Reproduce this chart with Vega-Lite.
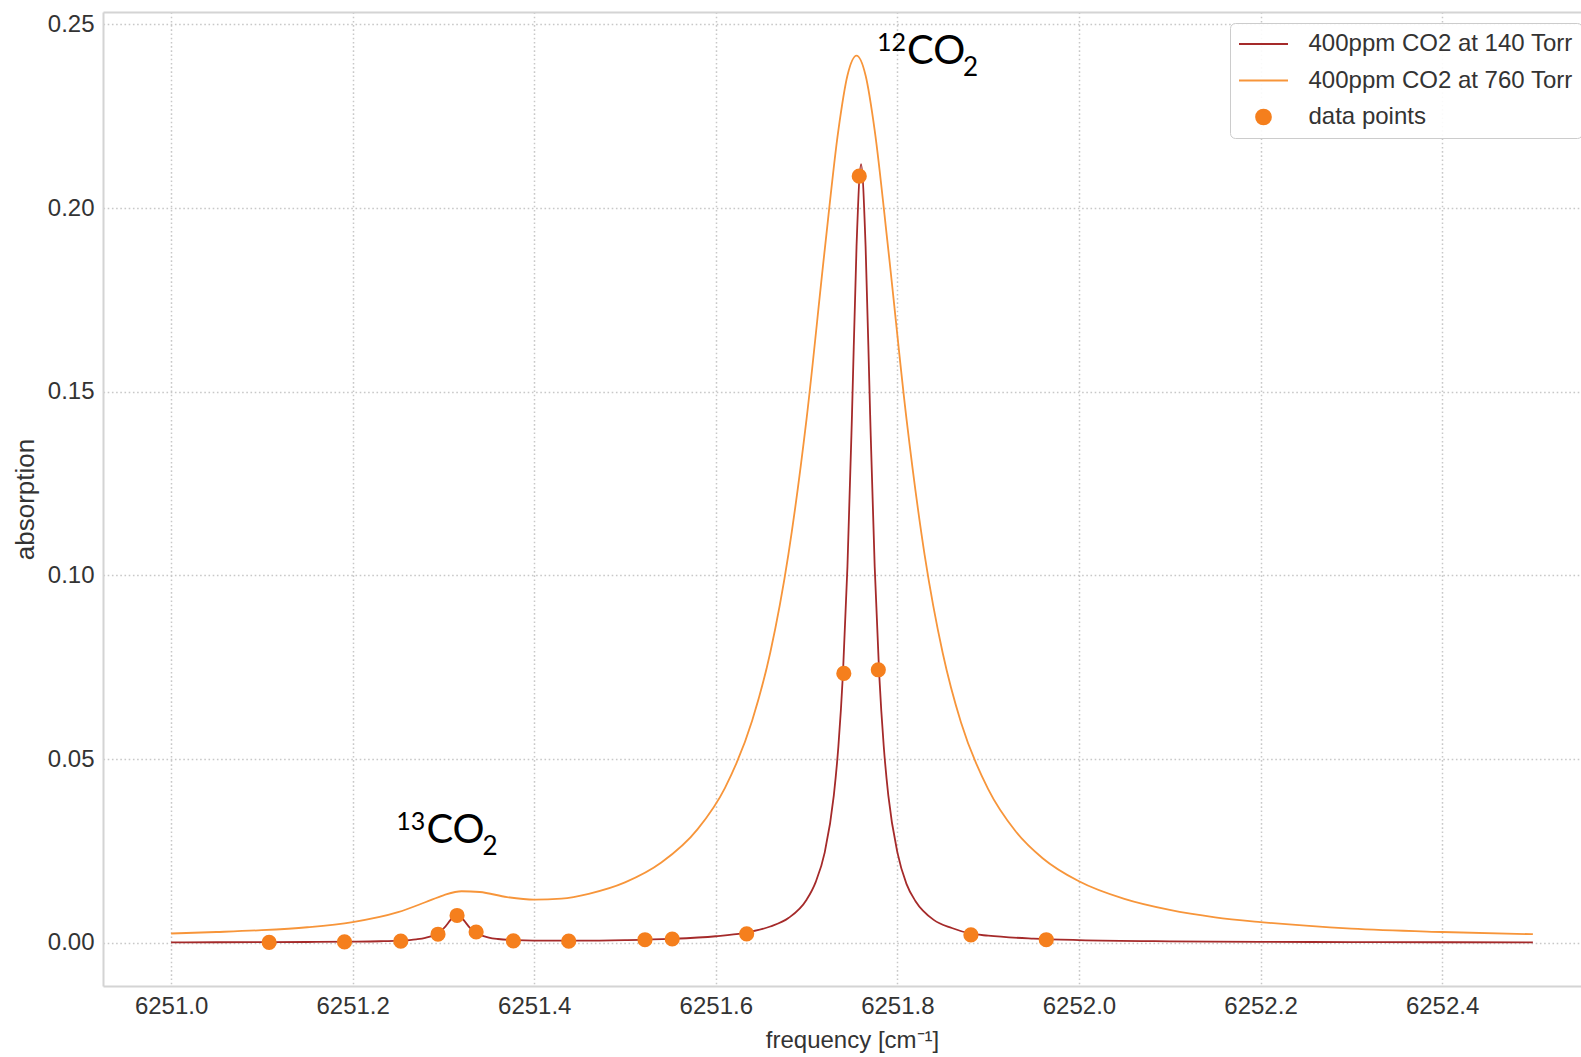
{
  "$schema": "https://vega.github.io/schema/vega-lite/v6.json",
  "width": 1478,
  "height": 974,
  "autosize": "none",
  "padding": {"left": 103, "top": 12, "right": 0, "bottom": 71},
  "background": "white",
  "config": {
    "view": {"stroke": null},
    "font": "Liberation Sans",
    "axis": {
      "labelFont": "Liberation Sans", "labelFontSize": 24, "labelColor": "#333333",
      "titleFont": "Liberation Sans", "titleFontSize": 24, "titleFontWeight": "normal", "titleColor": "#333333",
      "domainColor": "#d4d4d4", "domainWidth": 2, "ticks": false, "tickSize": 0,
      "gridColor": "#c8c8c8", "gridDash": [1.6, 2.6], "gridWidth": 1.5
    }
  },
  "datasets": {
    "curves": [
      {"series": "400ppm CO2 at 760 Torr", "frequency": 6251.00, "absorption": 0.0025},
      {"series": "400ppm CO2 at 760 Torr", "frequency": 6251.05, "absorption": 0.0029},
      {"series": "400ppm CO2 at 760 Torr", "frequency": 6251.10, "absorption": 0.0034},
      {"series": "400ppm CO2 at 760 Torr", "frequency": 6251.15, "absorption": 0.0042},
      {"series": "400ppm CO2 at 760 Torr", "frequency": 6251.20, "absorption": 0.0056},
      {"series": "400ppm CO2 at 760 Torr", "frequency": 6251.25, "absorption": 0.0083},
      {"series": "400ppm CO2 at 760 Torr", "frequency": 6251.28, "absorption": 0.0110},
      {"series": "400ppm CO2 at 760 Torr", "frequency": 6251.30, "absorption": 0.0129},
      {"series": "400ppm CO2 at 760 Torr", "frequency": 6251.32, "absorption": 0.0140},
      {"series": "400ppm CO2 at 760 Torr", "frequency": 6251.34, "absorption": 0.0138},
      {"series": "400ppm CO2 at 760 Torr", "frequency": 6251.37, "absorption": 0.0124},
      {"series": "400ppm CO2 at 760 Torr", "frequency": 6251.40, "absorption": 0.0117},
      {"series": "400ppm CO2 at 760 Torr", "frequency": 6251.43, "absorption": 0.0120},
      {"series": "400ppm CO2 at 760 Torr", "frequency": 6251.46, "absorption": 0.0133},
      {"series": "400ppm CO2 at 760 Torr", "frequency": 6251.50, "absorption": 0.0164},
      {"series": "400ppm CO2 at 760 Torr", "frequency": 6251.54, "absorption": 0.0218},
      {"series": "400ppm CO2 at 760 Torr", "frequency": 6251.58, "absorption": 0.0309},
      {"series": "400ppm CO2 at 760 Torr", "frequency": 6251.61, "absorption": 0.0421},
      {"series": "400ppm CO2 at 760 Torr", "frequency": 6251.64, "absorption": 0.0604},
      {"series": "400ppm CO2 at 760 Torr", "frequency": 6251.66, "absorption": 0.0790},
      {"series": "400ppm CO2 at 760 Torr", "frequency": 6251.68, "absorption": 0.1058},
      {"series": "400ppm CO2 at 760 Torr", "frequency": 6251.70, "absorption": 0.1427},
      {"series": "400ppm CO2 at 760 Torr", "frequency": 6251.72, "absorption": 0.1887},
      {"series": "400ppm CO2 at 760 Torr", "frequency": 6251.735, "absorption": 0.2212},
      {"series": "400ppm CO2 at 760 Torr", "frequency": 6251.745, "absorption": 0.2361},
      {"series": "400ppm CO2 at 760 Torr", "frequency": 6251.755, "absorption": 0.2415},
      {"series": "400ppm CO2 at 760 Torr", "frequency": 6251.765, "absorption": 0.2361},
      {"series": "400ppm CO2 at 760 Torr", "frequency": 6251.775, "absorption": 0.2212},
      {"series": "400ppm CO2 at 760 Torr", "frequency": 6251.79, "absorption": 0.1887},
      {"series": "400ppm CO2 at 760 Torr", "frequency": 6251.81, "absorption": 0.1427},
      {"series": "400ppm CO2 at 760 Torr", "frequency": 6251.83, "absorption": 0.1056},
      {"series": "400ppm CO2 at 760 Torr", "frequency": 6251.85, "absorption": 0.0788},
      {"series": "400ppm CO2 at 760 Torr", "frequency": 6251.87, "absorption": 0.0600},
      {"series": "400ppm CO2 at 760 Torr", "frequency": 6251.90, "absorption": 0.0418},
      {"series": "400ppm CO2 at 760 Torr", "frequency": 6251.93, "absorption": 0.0304},
      {"series": "400ppm CO2 at 760 Torr", "frequency": 6251.96, "absorption": 0.0230},
      {"series": "400ppm CO2 at 760 Torr", "frequency": 6252.00, "absorption": 0.0167},
      {"series": "400ppm CO2 at 760 Torr", "frequency": 6252.05, "absorption": 0.0119},
      {"series": "400ppm CO2 at 760 Torr", "frequency": 6252.10, "absorption": 0.0089},
      {"series": "400ppm CO2 at 760 Torr", "frequency": 6252.15, "absorption": 0.0069},
      {"series": "400ppm CO2 at 760 Torr", "frequency": 6252.20, "absorption": 0.0056},
      {"series": "400ppm CO2 at 760 Torr", "frequency": 6252.30, "absorption": 0.0038},
      {"series": "400ppm CO2 at 760 Torr", "frequency": 6252.40, "absorption": 0.0029},
      {"series": "400ppm CO2 at 760 Torr", "frequency": 6252.50, "absorption": 0.0023},
      {"series": "400ppm CO2 at 140 Torr", "frequency": 6251.00, "absorption": 0.0001},
      {"series": "400ppm CO2 at 140 Torr", "frequency": 6251.05, "absorption": 0.00011},
      {"series": "400ppm CO2 at 140 Torr", "frequency": 6251.10, "absorption": 0.00014},
      {"series": "400ppm CO2 at 140 Torr", "frequency": 6251.15, "absorption": 0.00018},
      {"series": "400ppm CO2 at 140 Torr", "frequency": 6251.20, "absorption": 0.00026},
      {"series": "400ppm CO2 at 140 Torr", "frequency": 6251.23, "absorption": 0.00038},
      {"series": "400ppm CO2 at 140 Torr", "frequency": 6251.25, "absorption": 0.00054},
      {"series": "400ppm CO2 at 140 Torr", "frequency": 6251.27, "absorption": 0.00091},
      {"series": "400ppm CO2 at 140 Torr", "frequency": 6251.28, "absorption": 0.00131},
      {"series": "400ppm CO2 at 140 Torr", "frequency": 6251.29, "absorption": 0.0021},
      {"series": "400ppm CO2 at 140 Torr", "frequency": 6251.30, "absorption": 0.0038},
      {"series": "400ppm CO2 at 140 Torr", "frequency": 6251.31, "absorption": 0.0067},
      {"series": "400ppm CO2 at 140 Torr", "frequency": 6251.315, "absorption": 0.0074},
      {"series": "400ppm CO2 at 140 Torr", "frequency": 6251.32, "absorption": 0.0067},
      {"series": "400ppm CO2 at 140 Torr", "frequency": 6251.33, "absorption": 0.0038},
      {"series": "400ppm CO2 at 140 Torr", "frequency": 6251.34, "absorption": 0.0022},
      {"series": "400ppm CO2 at 140 Torr", "frequency": 6251.35, "absorption": 0.0014},
      {"series": "400ppm CO2 at 140 Torr", "frequency": 6251.36, "absorption": 0.0010},
      {"series": "400ppm CO2 at 140 Torr", "frequency": 6251.38, "absorption": 0.00067},
      {"series": "400ppm CO2 at 140 Torr", "frequency": 6251.40, "absorption": 0.00056},
      {"series": "400ppm CO2 at 140 Torr", "frequency": 6251.45, "absorption": 0.00055},
      {"series": "400ppm CO2 at 140 Torr", "frequency": 6251.50, "absorption": 0.0007},
      {"series": "400ppm CO2 at 140 Torr", "frequency": 6251.55, "absorption": 0.00103},
      {"series": "400ppm CO2 at 140 Torr", "frequency": 6251.60, "absorption": 0.00175},
      {"series": "400ppm CO2 at 140 Torr", "frequency": 6251.63, "absorption": 0.0026},
      {"series": "400ppm CO2 at 140 Torr", "frequency": 6251.66, "absorption": 0.0044},
      {"series": "400ppm CO2 at 140 Torr", "frequency": 6251.68, "absorption": 0.0067},
      {"series": "400ppm CO2 at 140 Torr", "frequency": 6251.70, "absorption": 0.0117},
      {"series": "400ppm CO2 at 140 Torr", "frequency": 6251.71, "absorption": 0.0165},
      {"series": "400ppm CO2 at 140 Torr", "frequency": 6251.72, "absorption": 0.0246},
      {"series": "400ppm CO2 at 140 Torr", "frequency": 6251.73, "absorption": 0.0401},
      {"series": "400ppm CO2 at 140 Torr", "frequency": 6251.735, "absorption": 0.0534},
      {"series": "400ppm CO2 at 140 Torr", "frequency": 6251.74, "absorption": 0.0730},
      {"series": "400ppm CO2 at 140 Torr", "frequency": 6251.745, "absorption": 0.1024},
      {"series": "400ppm CO2 at 140 Torr", "frequency": 6251.75, "absorption": 0.1437},
      {"series": "400ppm CO2 at 140 Torr", "frequency": 6251.755, "absorption": 0.1895},
      {"series": "400ppm CO2 at 140 Torr", "frequency": 6251.76, "absorption": 0.2120},
      {"series": "400ppm CO2 at 140 Torr", "frequency": 6251.765, "absorption": 0.1895},
      {"series": "400ppm CO2 at 140 Torr", "frequency": 6251.77, "absorption": 0.1437},
      {"series": "400ppm CO2 at 140 Torr", "frequency": 6251.775, "absorption": 0.1024},
      {"series": "400ppm CO2 at 140 Torr", "frequency": 6251.78, "absorption": 0.0730},
      {"series": "400ppm CO2 at 140 Torr", "frequency": 6251.785, "absorption": 0.0534},
      {"series": "400ppm CO2 at 140 Torr", "frequency": 6251.79, "absorption": 0.0401},
      {"series": "400ppm CO2 at 140 Torr", "frequency": 6251.80, "absorption": 0.0246},
      {"series": "400ppm CO2 at 140 Torr", "frequency": 6251.81, "absorption": 0.0160},
      {"series": "400ppm CO2 at 140 Torr", "frequency": 6251.82, "absorption": 0.0113},
      {"series": "400ppm CO2 at 140 Torr", "frequency": 6251.84, "absorption": 0.0062},
      {"series": "400ppm CO2 at 140 Torr", "frequency": 6251.86, "absorption": 0.0040},
      {"series": "400ppm CO2 at 140 Torr", "frequency": 6251.88, "absorption": 0.0025},
      {"series": "400ppm CO2 at 140 Torr", "frequency": 6251.90, "absorption": 0.0019},
      {"series": "400ppm CO2 at 140 Torr", "frequency": 6251.95, "absorption": 0.0011},
      {"series": "400ppm CO2 at 140 Torr", "frequency": 6252.00, "absorption": 0.0007},
      {"series": "400ppm CO2 at 140 Torr", "frequency": 6252.10, "absorption": 0.00036},
      {"series": "400ppm CO2 at 140 Torr", "frequency": 6252.20, "absorption": 0.00022},
      {"series": "400ppm CO2 at 140 Torr", "frequency": 6252.30, "absorption": 0.00015},
      {"series": "400ppm CO2 at 140 Torr", "frequency": 6252.40, "absorption": 0.00011},
      {"series": "400ppm CO2 at 140 Torr", "frequency": 6252.50, "absorption": 0.00008}
    ],
    "points": [
      {"series": "data points", "frequency": 6251.108, "absorption": 0.0001},
      {"series": "data points", "frequency": 6251.191, "absorption": 0.0002},
      {"series": "data points", "frequency": 6251.253, "absorption": 0.0004},
      {"series": "data points", "frequency": 6251.294, "absorption": 0.0023},
      {"series": "data points", "frequency": 6251.315, "absorption": 0.0074},
      {"series": "data points", "frequency": 6251.336, "absorption": 0.0029},
      {"series": "data points", "frequency": 6251.377, "absorption": 0.0005},
      {"series": "data points", "frequency": 6251.438, "absorption": 0.0004},
      {"series": "data points", "frequency": 6251.522, "absorption": 0.0008},
      {"series": "data points", "frequency": 6251.552, "absorption": 0.0010},
      {"series": "data points", "frequency": 6251.634, "absorption": 0.0024},
      {"series": "data points", "frequency": 6251.741, "absorption": 0.0733},
      {"series": "data points", "frequency": 6251.758, "absorption": 0.2087},
      {"series": "data points", "frequency": 6251.779, "absorption": 0.0743},
      {"series": "data points", "frequency": 6251.881, "absorption": 0.0021},
      {"series": "data points", "frequency": 6251.964, "absorption": 0.0008}
    ],
    "labels": [
      {"frequency": 6251.8106, "absorption": 0.2393, "isotope": "12", "molecule": "CO", "subscript": "2"},
      {"frequency": 6251.2812, "absorption": 0.0271, "isotope": "13", "molecule": "CO", "subscript": "2"}
    ]
  },
  "resolve": {"axis": {"x": "independent"}},
  "layer": [
    {
      "data": {"name": "curves"},
      "mark": {"type": "line", "strokeWidth": 1.8, "interpolate": "monotone"},
      "encoding": {
        "x": {"field": "frequency", "type": "quantitative",
          "scale": {"domain": [6250.925, 6252.553], "nice": false, "zero": false},
          "axis": {"orient": "bottom", "values": [6251.0, 6251.2, 6251.4, 6251.6, 6251.8, 6252.0, 6252.2, 6252.4], "format": ".1f", "labelPadding": 8, "title": "frequency [cm⁻¹]", "titlePadding": 10, "titleX": 749}},
        "y": {"field": "absorption", "type": "quantitative",
          "scale": {"domain": [-0.0118, 0.2534], "nice": false, "zero": false},
          "axis": {"orient": "left", "values": [0, 0.05, 0.1, 0.15, 0.2, 0.25], "format": ".2f", "labelPadding": 9, "title": "absorption", "titleFontSize": 26, "titlePadding": 9}},
        "color": {"field": "series", "type": "nominal",
          "scale": {"domain": ["400ppm CO2 at 140 Torr", "400ppm CO2 at 760 Torr", "data points"], "range": ["#a52a2a", "#f7953a", "#f57f1d"]},
          "legend": {
            "title": null, "orient": "none", "legendX": 1127, "legendY": 11,
            "labelFont": "Liberation Sans", "labelFontSize": 24, "labelColor": "#333333", "labelLimit": 600,
            "symbolType": "circle", "symbolSize": 216, "symbolStrokeWidth": 2, "symbolOffset": 12.5, "labelOffset": 33,
            "rowPadding": 12.5, "padding": 9, "fillColor": "rgba(255,255,255,0.9)", "strokeColor": "#cccccc", "cornerRadius": 5,
            "encode": {"symbols": {"update": {
              "shape": {"signal": "datum.value === 'data points' ? 'circle' : 'M-3.333,0H3.333'"},
              "size": {"value": 216},
              "fill": {"signal": "datum.value === 'data points' ? '#f57f1d' : 'transparent'"},
              "stroke": {"signal": "datum.value === '400ppm CO2 at 140 Torr' ? '#a52a2a' : (datum.value === '400ppm CO2 at 760 Torr' ? '#f7953a' : 'transparent')"},
              "strokeWidth": {"value": 2},
              "opacity": {"value": 1}
            }}}
          }}
      }
    },
    {
      "data": {"name": "points"},
      "mark": {"type": "point", "shape": "circle", "filled": true, "size": 230, "opacity": 1},
      "encoding": {
        "x": {"field": "frequency", "type": "quantitative", "axis": null},
        "y": {"field": "absorption", "type": "quantitative"},
        "color": {"field": "series", "type": "nominal"}
      }
    },
    {
      "data": {"name": "labels"},
      "mark": {"type": "text", "font": "Lato", "fontSize": 40, "align": "left", "baseline": "alphabetic", "color": "black"},
      "encoding": {
        "x": {"field": "frequency", "type": "quantitative", "axis": {"orient": "top", "labels": false, "grid": false, "title": null, "domain": true}},
        "y": {"field": "absorption", "type": "quantitative"},
        "text": {"field": "molecule"}
      }
    },
    {
      "data": {"name": "labels"},
      "mark": {"type": "text", "font": "Lato", "fontSize": 25, "align": "right", "baseline": "alphabetic", "dx": -1, "dy": -13, "color": "black"},
      "encoding": {
        "x": {"field": "frequency", "type": "quantitative", "axis": null},
        "y": {"field": "absorption", "type": "quantitative"},
        "text": {"field": "isotope"}
      }
    },
    {
      "data": {"name": "labels"},
      "mark": {"type": "text", "font": "Lato", "fontSize": 26, "align": "left", "baseline": "alphabetic", "dx": 56, "dy": 12, "color": "black"},
      "encoding": {
        "x": {"field": "frequency", "type": "quantitative", "axis": null},
        "y": {"field": "absorption", "type": "quantitative"},
        "text": {"field": "subscript"}
      }
    }
  ]
}
